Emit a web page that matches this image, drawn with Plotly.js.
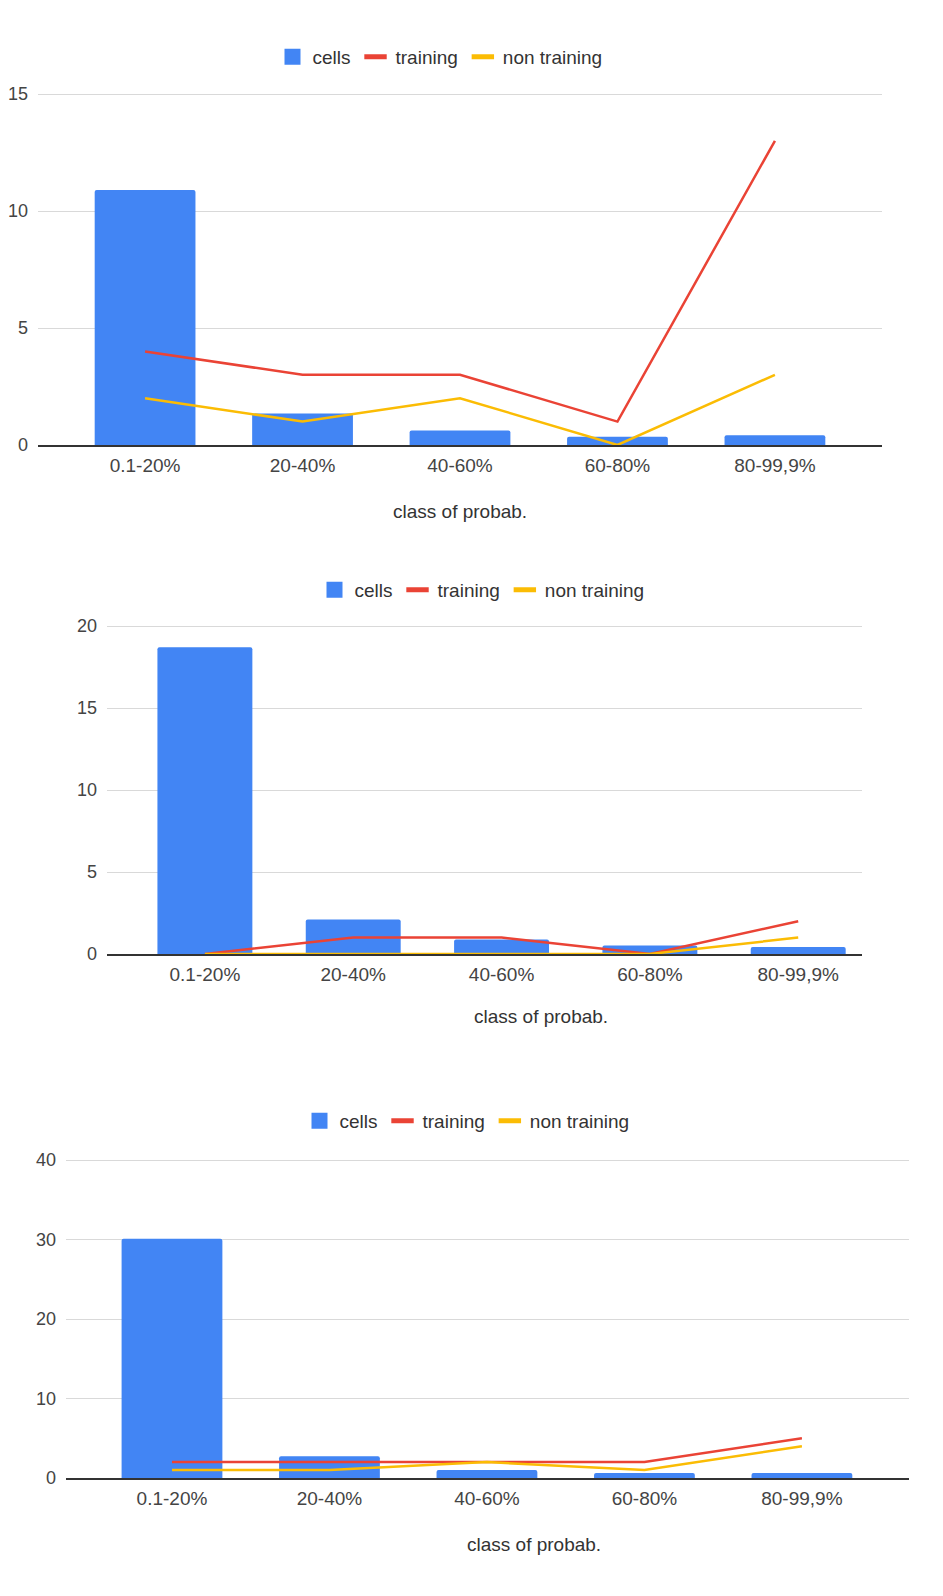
<!DOCTYPE html>
<html>
<head>
<meta charset="utf-8">
<script src="https://cdn.plot.ly/plotly-3.0.1.min.js"></script>
<style>
  html, body { margin: 0; padding: 0; background: #fff; }
  .chart { position: absolute; left: 0; width: 943px; }
</style>
</head>
<body>
<div id="c1" class="chart" style="top:0px;height:540px;"></div>
<div id="c2" class="chart" style="top:540px;height:520px;"></div>
<div id="c3" class="chart" style="top:1060px;height:536px;"></div>
<script>
// ---- data ----
const categories = ["0.1-20%", "20-40%", "40-60%", "60-80%", "80-99,9%"];
const seriesNames = ["cells", "training", "non training"];
const xTitle = "class of probab.";

const cells1 = [10.9, 1.35, 0.62, 0.35, 0.42];
const training1 = [4, 3, 3, 1, 13];
const nonTraining1 = [2, 1, 2, 0, 3];

const cells2 = [18.7, 2.1, 0.88, 0.52, 0.42];
const training2 = [0, 1, 1, 0, 2];
const nonTraining2 = [0, 0, 0, 0, 1];

const cells3 = [30.1, 2.75, 1.0, 0.62, 0.62];
const training3 = [2, 2, 2, 2, 5];
const nonTraining3 = [1, 1, 2, 1, 4];

const yTicks1 = [0, 5, 10, 15];
const yTicks2 = [0, 5, 10, 15, 20];
const yTicks3 = [0, 10, 20, 30, 40];

// ---- styles ----
const BLUE = "#4285f4", RED = "#ea4335", YELLOW = "#fbbc04";
const FONT = "Arial, 'Liberation Sans', sans-serif";
const TOP_PAD = 4; // extra px above the top gridline so it is drawn

function makeChart(id, cells, training, nonTraining, yTicks, cfg) {
  const traces = [
    { type: "bar", x: categories, y: cells, name: seriesNames[0], showlegend: false,
      marker: { color: BLUE, cornerradius: 2 }, hoverinfo: "skip" },
    { type: "scatter", mode: "lines", x: categories, y: training, name: seriesNames[1],
      showlegend: false, line: { color: RED, width: 2.5 }, hoverinfo: "skip" },
    { type: "scatter", mode: "lines", x: categories, y: nonTraining, name: seriesNames[2],
      showlegend: false, line: { color: YELLOW, width: 2.5 }, hoverinfo: "skip" },
    // legend entries (no visible marks on the plot)
    { type: "scatter", mode: "markers", x: [null], y: [null], name: seriesNames[0],
      marker: { symbol: "square", size: 16, color: BLUE }, hoverinfo: "skip" },
    { type: "scatter", mode: "markers", x: [null], y: [null], name: seriesNames[1],
      marker: { symbol: "line-ew", size: 16, line: { color: RED, width: 5 } }, hoverinfo: "skip" },
    { type: "scatter", mode: "markers", x: [null], y: [null], name: seriesNames[2],
      marker: { symbol: "line-ew", size: 16, line: { color: YELLOW, width: 5 } }, hoverinfo: "skip" }
  ];
  const plotH = cfg.h - cfg.t - cfg.b;          // height from 0 to top tick
  const plotW = 943 - cfg.l - cfg.r;
  const yMax = yTicks[yTicks.length - 1];
  const yTop = yMax + TOP_PAD * yMax / plotH;   // keep same scale, add a few px
  const realH = plotH + TOP_PAD;
  const layout = {
    width: 943, height: cfg.h,
    margin: { l: cfg.l, r: cfg.r, t: cfg.t - TOP_PAD, b: cfg.b, pad: 0 },
    paper_bgcolor: "#fff", plot_bgcolor: "#fff",
    font: { family: FONT, size: 18, color: "#444" },
    bargap: cfg.bargap,
    showlegend: true,
    legend: {
      orientation: "h", x: cfg.legendX, xanchor: "center",
      y: 1 + (cfg.legendAbove - TOP_PAD) / realH, yanchor: "middle",
      font: { family: FONT, size: 19, color: "#333" },
      itemwidth: 30, traceorder: "normal"
    },
    xaxis: {
      type: "category", range: cfg.xrange, showgrid: false,
      showline: true, linecolor: "#333", linewidth: 1.5,
      ticks: "", ticklabelstandoff: 3,
      tickfont: { family: FONT, size: 19, color: "#444" },
      fixedrange: true, zeroline: false
    },
    yaxis: {
      range: [0, yTop], tickvals: yTicks,
      showgrid: true, gridcolor: "#d9d9d9", gridwidth: 1,
      zeroline: false, showline: false, ticks: "",
      ticklabelstandoff: 9,
      tickfont: { family: FONT, size: 18, color: "#444" },
      fixedrange: true
    },
    annotations: [{
      text: xTitle, showarrow: false,
      xref: "paper", yref: "paper",
      x: (cfg.titleX - cfg.l) / plotW, xanchor: "center",
      y: -cfg.titleBelow / realH, yanchor: "middle",
      font: { family: FONT, size: 19, color: "#333" }
    }]
  };
  Plotly.newPlot(id, traces, layout, { staticPlot: true, displayModeBar: false });
}

makeChart("c1", cells1, training1, nonTraining1, yTicks1, {
  h: 540, t: 94, b: 95, l: 38, r: 61, xrange: [-0.68, 4.68], bargap: 0.36,
  legendX: (440 - 38) / 844, legendAbove: 37, titleX: 460, titleBelow: 66
});
makeChart("c2", cells2, training2, nonTraining2, yTicks2, {
  h: 520, t: 86, b: 106, l: 107, r: 81, xrange: [-0.66, 4.43], bargap: 0.36,
  legendX: (482 - 107) / 755, legendAbove: 36, titleX: 541, titleBelow: 62
});
makeChart("c3", cells3, training3, nonTraining3, yTicks3, {
  h: 536, t: 100, b: 118, l: 66, r: 34, xrange: [-0.673, 4.68], bargap: 0.36,
  legendX: (467 - 66) / 843, legendAbove: 39, titleX: 534, titleBelow: 66
});
</script>
</body>
</html>
